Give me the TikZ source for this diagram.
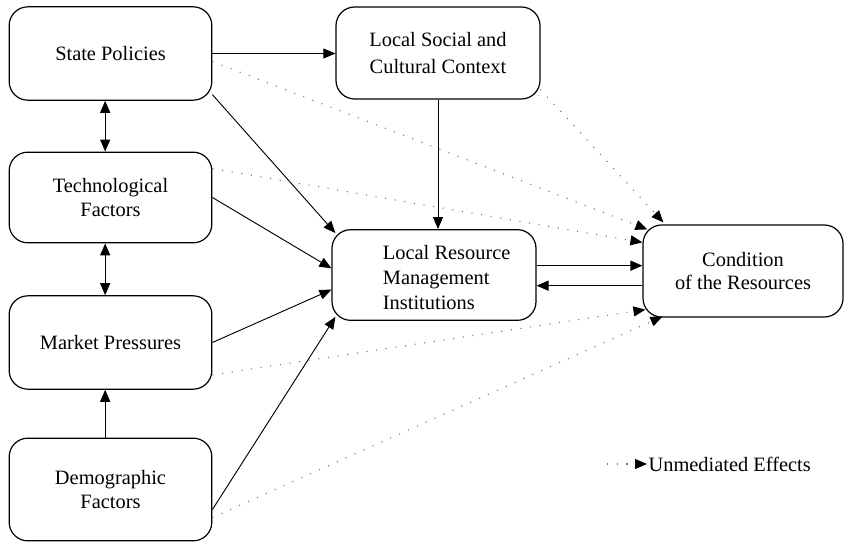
\documentclass[tikz,border=0pt]{standalone}
\usepackage{fontspec}
\setmainfont{Liberation Serif}
\usetikzlibrary{arrows.meta}
\begin{document}
\begin{tikzpicture}[x=0.75pt,y=-0.75pt,
    font=\fontsize{15.3}{17.5}\selectfont,
    box/.style={draw,rounded corners=14pt,line width=0.9pt,align=center,inner sep=0pt,
      minimum width=152pt,minimum height=69pt},
    arr/.style={-{Triangle[length=9pt,width=7.5pt]},line width=0.7pt},
    twoway/.style={{Triangle[length=9pt,width=7.5pt]}-{Triangle[length=9pt,width=7.5pt]},line width=0.8pt},
    direct/.style={-{Triangle[length=9pt,width=7.5pt,color=black]},line width=0.8pt,black!55,
      dash pattern=on 0.8pt off 6.5pt}]
    \useasboundingbox (0,0) rectangle (845,549);
    % left column
    \node[box,minimum height=70pt] (sp) at (110.5,53.5){State Policies};
    \node[box,minimum height=68pt] (tf) at (110.5,197.5){Technological\\Factors};
    \node[box,minimum height=70pt] (mp) at (110.5,342.5){Market Pressures};
    \node[box,minimum height=77pt] (df) at (110.5,489.5){Demographic\\Factors};
    % middle and right
    \node[box,minimum width=153pt] (ls) at (438,53){Local Social and\\[3pt]Cultural Context};
    \node[box,minimum width=153pt,minimum height=68pt] (lrmi) at (434,275){%
      \raisebox{-3.5pt}[\dimexpr\height+3.5pt\relax][\dimexpr\depth+3.5pt\relax]{%
      \begin{tabular}{@{\hspace{19pt}}l@{}}Local Resource\\[1.5pt]Management\\[1.5pt]Institutions\end{tabular}}};
    \node[box,minimum width=150pt] (cr) at (743,271){Condition\\of the Resources};
    \node[anchor=west,inner sep=1pt] (key) at (647,464){Unmediated Effects};
    \coordinate (keystart) at (607,464);
    % solid links
    \draw[arr](sp.east)--(sp.east -| ls.west);
    \draw[twoway]([xshift=-4pt]sp.south)--([xshift=-4pt]tf.north);
    \draw[twoway]([xshift=-4pt]tf.south)--([xshift=-4pt]mp.north);
    \draw[arr]([xshift=-4pt]df.north)--([xshift=-4pt]mp.south);
    \draw[arr,line width=0.6pt](ls.south)--(ls.south |- lrmi.north);
    \draw[arr](sp.-22)--([shift={(4,4)}]lrmi.north west);
    \draw[arr](tf.east)--([yshift=5pt]lrmi.west);
    \draw[arr](mp.east)--([yshift=-11pt]lrmi.west);
    \draw[arr]([yshift=-15pt]df.east)--([shift={(4,-4)}]lrmi.south west);
    \coordinate (lr1) at ([yshift=7pt]lrmi.east);
    \coordinate (lr2) at ([yshift=-8pt]lrmi.east);
    \draw[arr,line width=1.1pt](lr1)--(lr1 -| cr.west);
    \draw[arr,line width=1.1pt](lr2 -| cr.west)--(lr2);
    % unmediated effects
    \draw[direct]([yshift=-6pt]sp.east)--([shift={(5,5)}]cr.north west);
    \draw[direct]([shift={(0,-10)}]ls.south east)--([shift={(21,-2)}]cr.north west);
    \draw[direct]([shift={(0,17)}]tf.north east)--([shift={(0,18)}]cr.north west);
    \draw[direct]([shift={(0,-15)}]mp.south east)--([shift={(3,-8)}]cr.south west);
    \draw[direct]([yshift=-21pt]df.east)--([shift={(20,-1)}]cr.south west);
    \draw[direct](keystart)--(key.west);
\end{tikzpicture}
\end{document}
